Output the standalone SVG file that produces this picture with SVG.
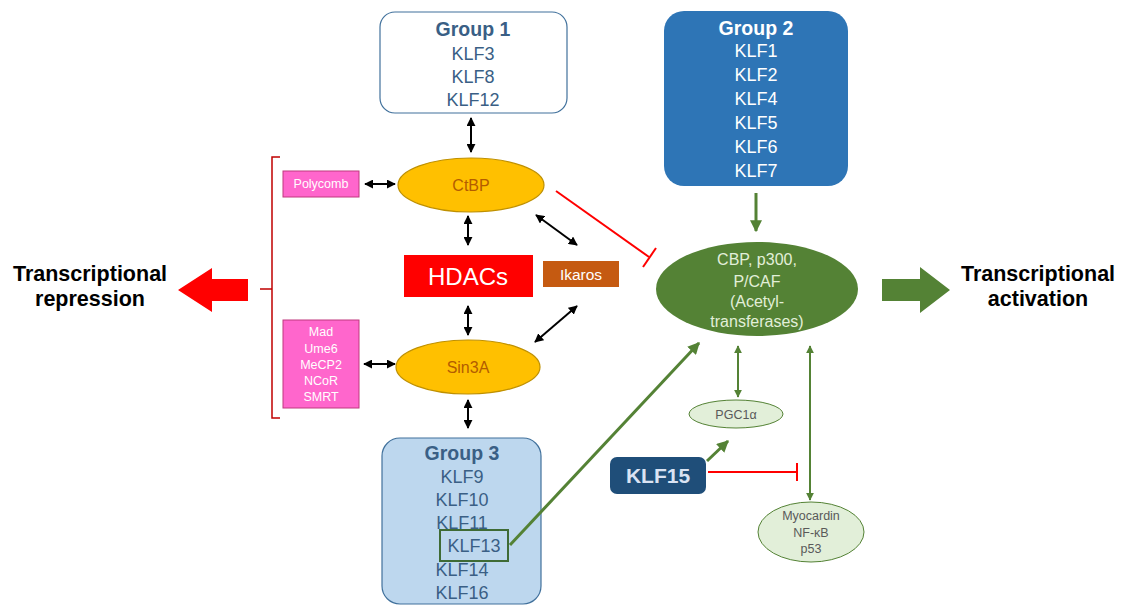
<svg xmlns="http://www.w3.org/2000/svg" width="1124" height="606" viewBox="0 0 1124 606">
<style>
text{font-family:"Liberation Sans",Arial,sans-serif;text-anchor:middle}
.klf{fill:#3a5f85;font-size:18px}
.klfw{fill:#ffffff;font-size:18px}
.b{font-weight:bold;font-size:19.5px}
.bk{stroke:#000;stroke-width:2;fill:none;marker-start:url(#ab);marker-end:url(#ab)}
.gr{stroke:#548235;fill:none}
.title{font-size:21.5px;font-weight:bold;fill:#000}
.pink{fill:#ff66cc;stroke:#c0397f;stroke-width:1}
.pt{fill:#fff;font-size:12.5px}
.ell{fill:#ffc000;stroke:#bf9000;stroke-width:1.2}
.et{fill:#b35c00;font-size:16px}
.lg{fill:#e2efd9;stroke:#548235;stroke-width:1}
.lgt{fill:#595959;font-size:12.5px}
</style>
<defs>
<marker id="ab" viewBox="0 0 10 10" refX="9" refY="5" markerWidth="4.5" markerHeight="4.5" orient="auto-start-reverse"><path d="M0,0 L10,5 L0,10 z" fill="#000"/></marker>
<marker id="ag" viewBox="0 0 10 10" refX="9" refY="5" markerWidth="4" markerHeight="4" orient="auto-start-reverse"><path d="M0,0 L10,5 L0,10 z" fill="#548235"/></marker>
</defs>
<rect width="1124" height="606" fill="#fff"/>

<g id="group1">
<rect x="380" y="12" width="187" height="101" rx="15" fill="#fff" stroke="#41719c" stroke-width="1.2"/>
<text x="473" y="36" class="klf b">Group 1</text>
<text x="473" y="60" class="klf">KLF3</text>
<text x="473" y="83" class="klf">KLF8</text>
<text x="473" y="106" class="klf">KLF12</text>
</g>

<g id="group2">
<rect x="664" y="11" width="184" height="175" rx="20" fill="#2e75b6"/>
<text x="756" y="35" class="klfw b">Group 2</text>
<text x="756" y="57" class="klfw">KLF1</text>
<text x="756" y="81" class="klfw">KLF2</text>
<text x="756" y="105" class="klfw">KLF4</text>
<text x="756" y="129" class="klfw">KLF5</text>
<text x="756" y="153" class="klfw">KLF6</text>
<text x="756" y="177" class="klfw">KLF7</text>
</g>

<g id="group3">
<rect x="382" y="438" width="159" height="166" rx="18" fill="#bdd7ee" stroke="#41719c" stroke-width="1.2"/>
<text x="462" y="460" class="klf b">Group 3</text>
<text x="462" y="483" class="klf">KLF9</text>
<text x="462" y="506" class="klf">KLF10</text>
<text x="462" y="529" class="klf">KLF11</text>
<text x="462" y="576" class="klf">KLF14</text>
<text x="462" y="599" class="klf">KLF16</text>
<rect x="440" y="530" width="68" height="31" fill="#bdd7ee" stroke="#3f6b35" stroke-width="2"/>
<text x="474" y="552" class="klf">KLF13</text>
</g>

<g id="ctbp">
<ellipse cx="471" cy="185" rx="73" ry="27" class="ell"/>
<text x="471" y="191" class="et">CtBP</text>
</g>

<g id="sin3a">
<ellipse cx="468" cy="367" rx="72" ry="27" class="ell"/>
<text x="468" y="373" class="et">Sin3A</text>
</g>

<g id="polycomb">
<rect x="283" y="171" width="76" height="26" class="pink"/>
<text x="321" y="188" class="pt">Polycomb</text>
</g>

<g id="corepressors">
<rect x="283" y="320" width="76" height="88" class="pink"/>
<text x="321" y="336" class="pt">Mad</text>
<text x="321" y="353" class="pt">Ume6</text>
<text x="321" y="369" class="pt">MeCP2</text>
<text x="321" y="385" class="pt">NCoR</text>
<text x="321" y="401" class="pt">SMRT</text>
</g>

<g id="hdacs">
<rect x="404" y="255" width="129" height="42" fill="#ff0000"/>
<text x="468" y="285" fill="#fff" font-size="24">HDACs</text>
</g>

<g id="ikaros">
<rect x="543" y="261" width="76" height="26" fill="#c55a11"/>
<text x="581" y="280" fill="#fff" font-size="15.5">Ikaros</text>
</g>

<g id="acetyltransferases">
<ellipse cx="757" cy="289" rx="101" ry="47" fill="#548235"/>
<text x="757" y="265" fill="#e2efd9" font-size="16">CBP, p300,</text>
<text x="757" y="287" fill="#e2efd9" font-size="16">P/CAF</text>
<text x="757" y="307" fill="#e2efd9" font-size="16">(Acetyl-</text>
<text x="757" y="327" fill="#e2efd9" font-size="16">transferases)</text>
</g>

<g id="pgc1a">
<ellipse cx="736" cy="414" rx="47" ry="14" class="lg"/>
<text x="736" y="419" class="lgt">PGC1α</text>
</g>

<g id="myocardin">
<ellipse cx="811" cy="532" rx="53" ry="30" class="lg"/>
<text x="811" y="520" class="lgt">Myocardin</text>
<text x="811" y="537" class="lgt">NF-κB</text>
<text x="811" y="553" class="lgt">p53</text>
</g>

<g id="klf15">
<rect x="610" y="457" width="96" height="37" rx="7" fill="#1f4e79"/>
<text x="658" y="483" fill="#dae3f3" font-size="21" font-weight="bold">KLF15</text>
</g>

<g id="repression">
<path d="M248,279 L212,279 L212,268 L178,290 L212,312 L212,301 L248,301 z" fill="#ff0000"/>
<text x="90" y="281" class="title">Transcriptional</text>
<text x="90" y="306" class="title">repression</text>
</g>

<g id="activation">
<path d="M882,279 L920,279 L920,267 L950,290 L920,313 L920,301 L882,301 z" fill="#548235"/>
<text x="1038" y="281" class="title">Transcriptional</text>
<text x="1038" y="306" class="title">activation</text>
</g>

<g id="connectors">
<path d="M280,157 L272,157 L272,418 L280,418 M272,289 L260,289" stroke="#c00000" stroke-width="1.5" fill="none"/>
<line x1="471" y1="118" x2="471" y2="152" class="bk"/>
<line x1="365" y1="184" x2="395" y2="184" class="bk"/>
<line x1="468" y1="216" x2="468" y2="245" class="bk"/>
<line x1="468" y1="306" x2="468" y2="335" class="bk"/>
<line x1="536" y1="215" x2="577" y2="245" class="bk"/>
<line x1="577" y1="306" x2="535" y2="342" class="bk"/>
<line x1="364" y1="364" x2="395" y2="364" class="bk"/>
<line x1="468" y1="400" x2="468" y2="428" class="bk"/>
<line x1="556" y1="191" x2="649" y2="257" stroke="#ff0000" stroke-width="2"/>
<line x1="643" y1="267" x2="656" y2="248" stroke="#ff0000" stroke-width="2"/>
<line x1="756" y1="193" x2="756" y2="231" class="gr" stroke-width="3" marker-end="url(#ag)"/>
<line x1="510" y1="545" x2="699" y2="343" class="gr" stroke-width="3" marker-end="url(#ag)"/>
<line x1="738" y1="346" x2="738" y2="397" class="gr" stroke-width="2" marker-start="url(#ag)" marker-end="url(#ag)"/>
<line x1="810" y1="346" x2="810" y2="500" class="gr" stroke-width="2" marker-start="url(#ag)" marker-end="url(#ag)"/>
<line x1="707" y1="461" x2="728" y2="441" class="gr" stroke-width="3" marker-end="url(#ag)"/>
<line x1="708" y1="472" x2="797" y2="472" stroke="#ff0000" stroke-width="2"/>
<line x1="797" y1="463" x2="797" y2="481" stroke="#ff0000" stroke-width="2"/>
</g>
</svg>
